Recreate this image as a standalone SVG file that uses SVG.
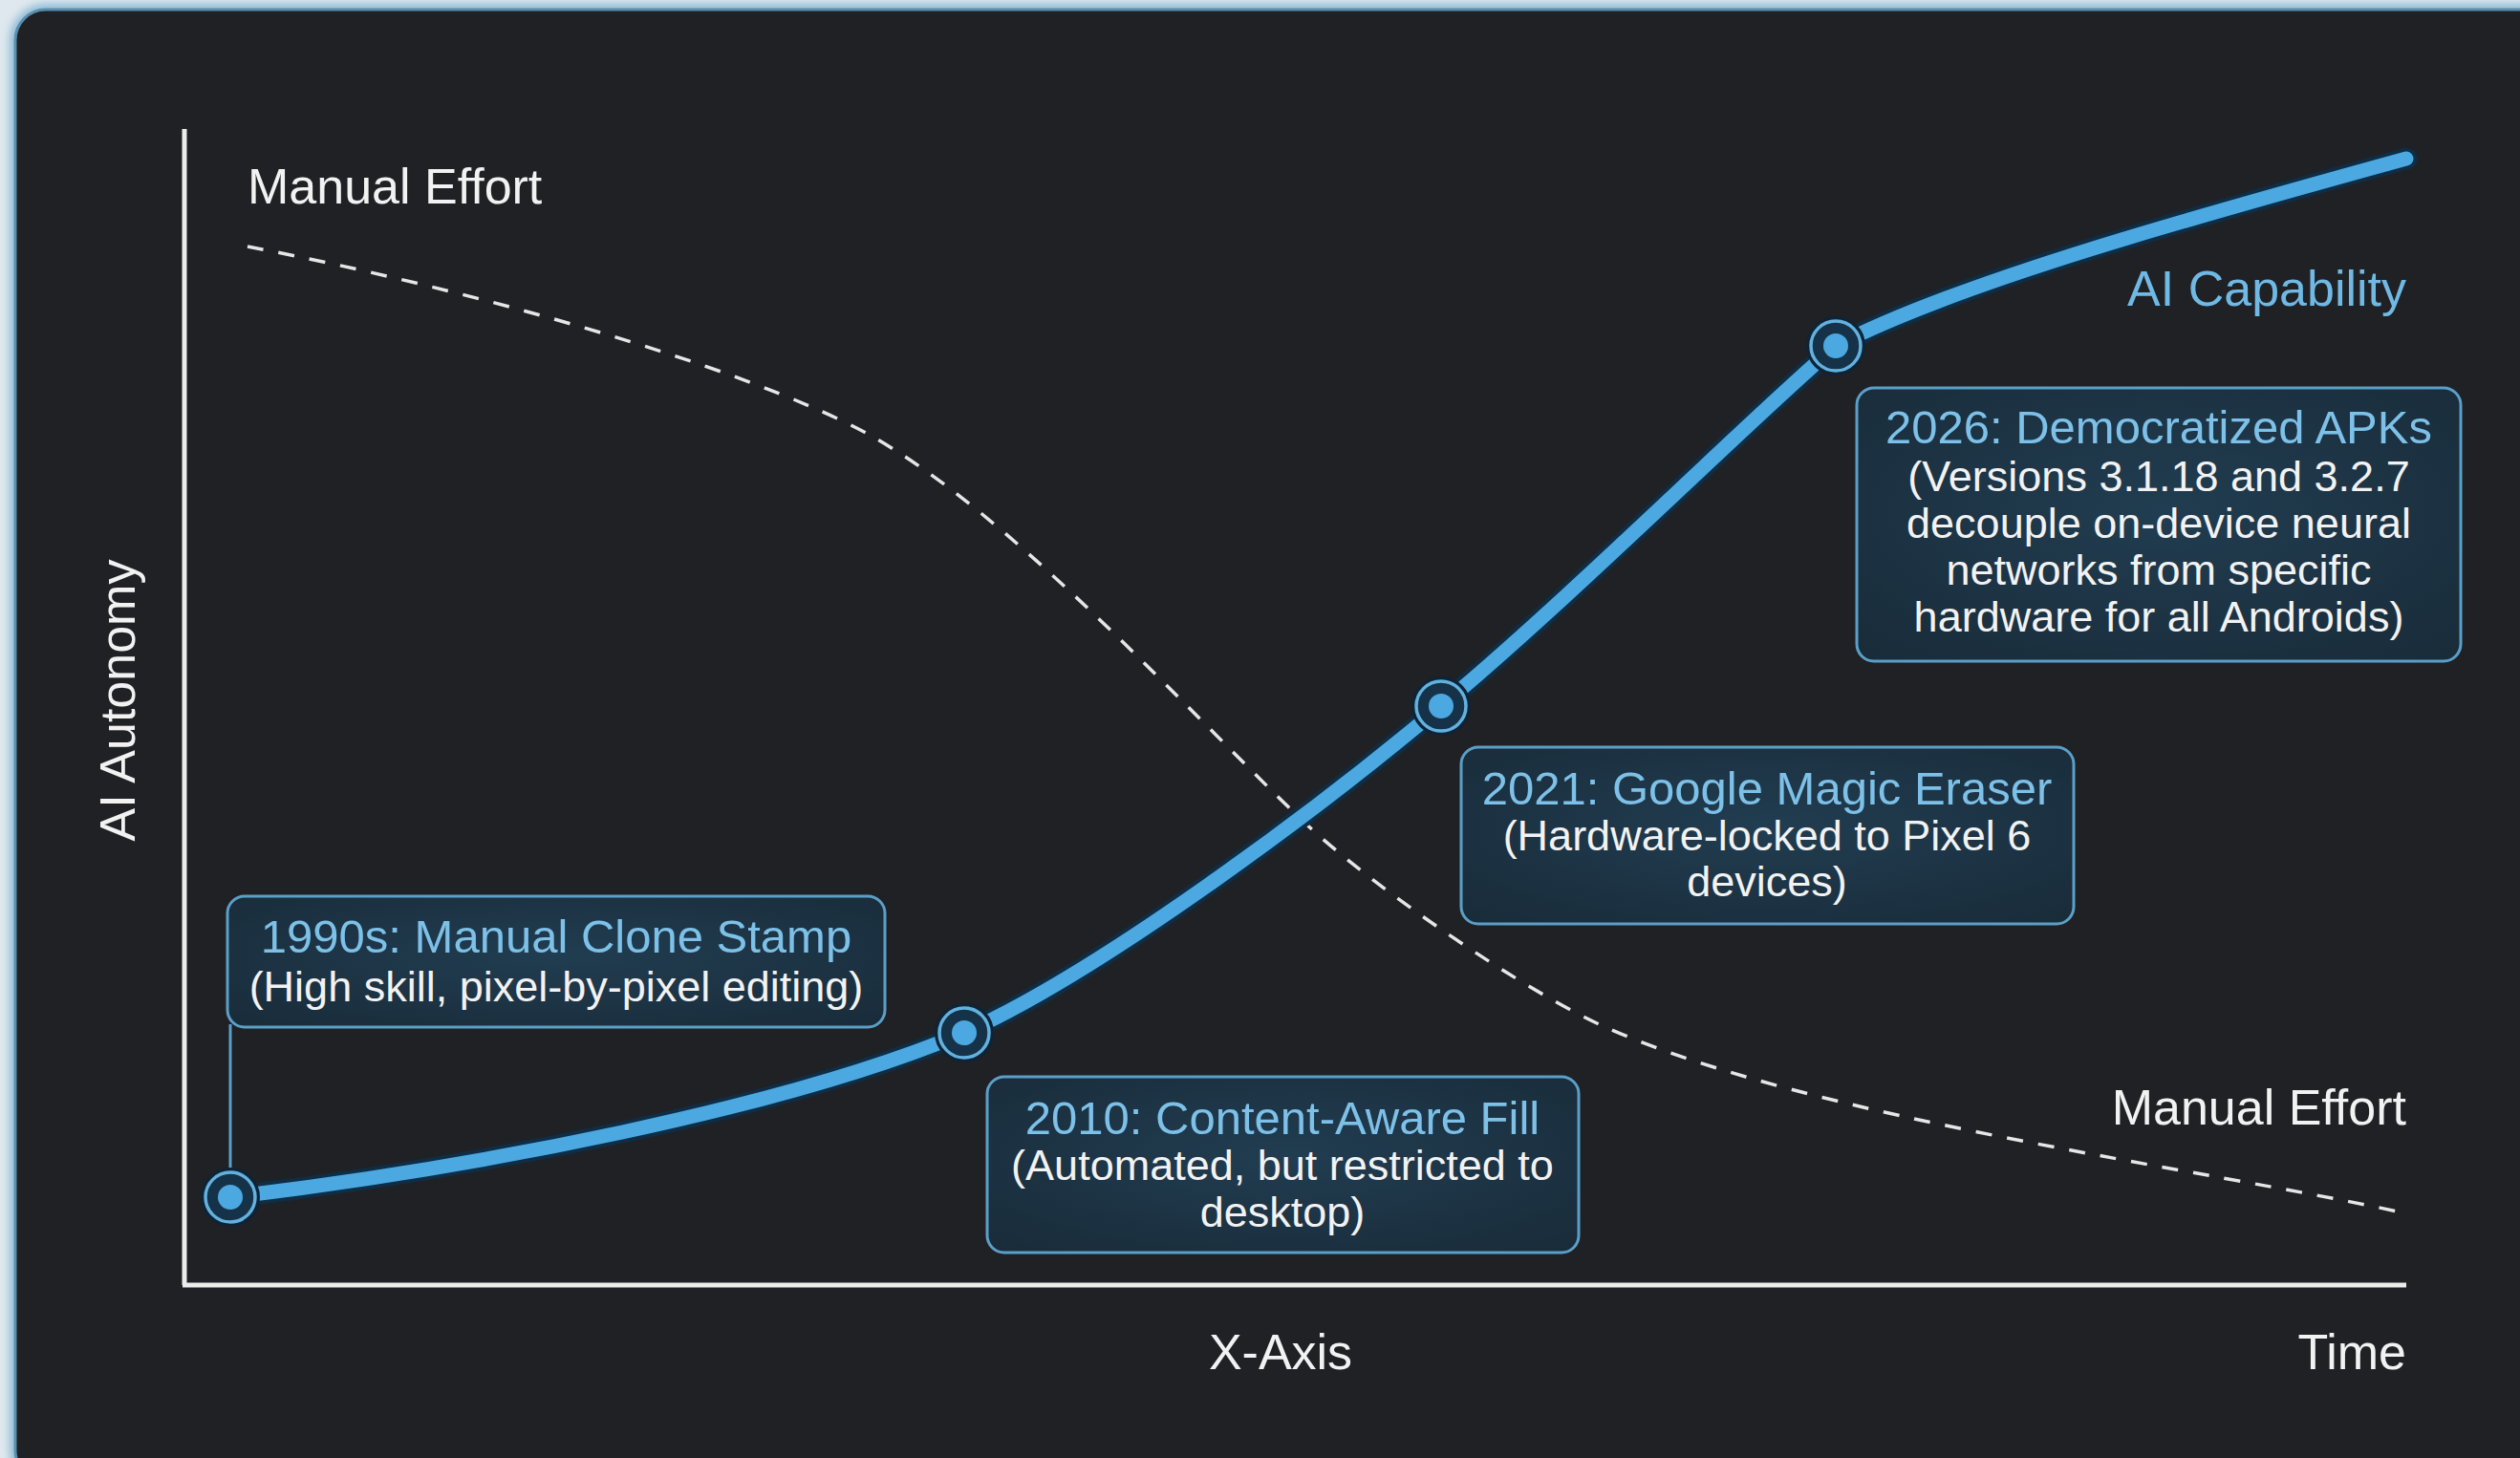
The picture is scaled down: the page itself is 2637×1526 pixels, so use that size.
<svg xmlns="http://www.w3.org/2000/svg" width="2637" height="1526" viewBox="0 0 2637 1526">
  <defs>
    <style>
      text { font-family: "Liberation Sans", Arial, sans-serif; }
      .axis-label { font-size: 52px; fill: #f2f2f2; }
      .cap-label { font-size: 52px; fill: #6fb9e4; }
      .box { fill: url(#boxGrad); stroke: #5b9fc8; stroke-width: 3; }
      .box-title { font-size: 49px; fill: #7dc0e8; text-anchor: middle; }
      .box-sub { font-size: 45px; fill: #f2f2f2; text-anchor: middle; }
      .axis { stroke: #ececec; stroke-width: 5; fill: none; }
      .dash { stroke: #e6e6e6; stroke-width: 3.5; fill: none; stroke-dasharray: 17 16; }
      .curve-under { stroke: #0f2d44; stroke-width: 23; fill: none; stroke-linecap: round; }
      .curve { stroke: #4ba8e0; stroke-width: 15; fill: none; stroke-linecap: round; }
      .m-outer { fill: #163248; stroke: #0e2436; stroke-width: 4; }
      .m-ring { fill: none; stroke: #62b1de; stroke-width: 3.5; }
      .m-dot { fill: #4ba8e0; }
      .leader { stroke: #5b9fc8; stroke-width: 3; fill: none; }
    </style>
    <radialGradient id="boxGrad" cx="50%" cy="45%" r="70%">
      <stop offset="0%" stop-color="#213d51"/>
      <stop offset="100%" stop-color="#192c3a"/>
    </radialGradient>
    <filter id="glow" x="-5%" y="-5%" width="110%" height="110%">
      <feGaussianBlur stdDeviation="5"/>
    </filter>
  </defs>

  <!-- background -->
  <rect x="0" y="0" width="2637" height="1526" fill="#dfe8ee"/>
  <rect x="16" y="10" width="2680" height="1540" rx="32" fill="none" stroke="#7fb2d0" stroke-width="10" filter="url(#glow)"/>
  <rect x="16" y="10" width="2680" height="1540" rx="32" fill="#1f2125" stroke="#5a8fb0" stroke-width="3"/>

  <!-- axes -->
  <g id="axes">
    <line class="axis" x1="193" y1="135" x2="193" y2="1345"/>
    <line class="axis" x1="191" y1="1345" x2="2518" y2="1345"/>
  </g>

  <!-- connectors / curves -->
  <g id="connectors">
    <path id="manual-effort-curve" class="dash" d="M259,258 C480,300 770,380 908,454 C1058,538 1232,733 1362,858 C1440,932 1600,1040 1682,1076 C1900,1172 2300,1222 2518,1270"/>
    <path class="curve-under" d="M241,1253 C500,1222 820,1160 1009,1081 C1150,1018 1380,847 1508,739 C1650,620 1830,440 1921,362 C2050,295 2300,226 2518,166"/>
    <path id="ai-capability-curve" class="curve" d="M241,1253 C500,1222 820,1160 1009,1081 C1150,1018 1380,847 1508,739 C1650,620 1830,440 1921,362 C2050,295 2300,226 2518,166"/>
    <line class="leader" x1="241" y1="1072" x2="241" y2="1226"/>
  </g>

  <!-- axis labels -->
  <g id="labels">
    <text class="axis-label" x="259" y="213">Manual Effort</text>
    <text class="axis-label" x="2518" y="1177" text-anchor="end">Manual Effort</text>
    <text class="cap-label" x="2518" y="320" text-anchor="end">AI Capability</text>
    <text class="axis-label" x="1340" y="1433" text-anchor="middle">X-Axis</text>
    <text class="axis-label" x="2518" y="1433" text-anchor="end">Time</text>
    <text class="axis-label" transform="translate(141,733) rotate(-90)" text-anchor="middle">AI Autonomy</text>
  </g>

  <!-- markers -->
  <g id="marker-1990s">
    <circle class="m-outer" cx="241" cy="1253" r="29"/>
    <circle class="m-ring" cx="241" cy="1253" r="26"/>
    <circle class="m-dot" cx="241" cy="1253" r="13"/>
  </g>
  <g id="marker-2010">
    <circle class="m-outer" cx="1009" cy="1081" r="29"/>
    <circle class="m-ring" cx="1009" cy="1081" r="26"/>
    <circle class="m-dot" cx="1009" cy="1081" r="13"/>
  </g>
  <g id="marker-2021">
    <circle class="m-outer" cx="1508" cy="739" r="29"/>
    <circle class="m-ring" cx="1508" cy="739" r="26"/>
    <circle class="m-dot" cx="1508" cy="739" r="13"/>
  </g>
  <g id="marker-2026">
    <circle class="m-outer" cx="1921" cy="362" r="29"/>
    <circle class="m-ring" cx="1921" cy="362" r="26"/>
    <circle class="m-dot" cx="1921" cy="362" r="13"/>
  </g>

  <!-- boxes -->
  <g id="box-1990s">
    <rect class="box" x="238" y="938" width="688" height="137" rx="18"/>
    <text class="box-title" x="582" y="997">1990s: Manual Clone Stamp</text>
    <text class="box-sub" x="582" y="1048">(High skill, pixel-by-pixel editing)</text>
  </g>
  <g id="box-2010">
    <rect class="box" x="1033" y="1127" width="619" height="184" rx="18"/>
    <text class="box-title" x="1342" y="1187">2010: Content-Aware Fill</text>
    <text class="box-sub" x="1342" y="1235">(Automated, but restricted to</text>
    <text class="box-sub" x="1342" y="1284">desktop)</text>
  </g>
  <g id="box-2021">
    <rect class="box" x="1529" y="782" width="641" height="185" rx="18"/>
    <text class="box-title" x="1849" y="842">2021: Google Magic Eraser</text>
    <text class="box-sub" x="1849" y="890">(Hardware-locked to Pixel 6</text>
    <text class="box-sub" x="1849" y="938">devices)</text>
  </g>
  <g id="box-2026">
    <rect class="box" x="1943" y="406" width="632" height="286" rx="18"/>
    <text class="box-title" x="2259" y="464">2026: Democratized APKs</text>
    <text class="box-sub" x="2259" y="514">(Versions 3.1.18 and 3.2.7</text>
    <text class="box-sub" x="2259" y="563">decouple on-device neural</text>
    <text class="box-sub" x="2259" y="612">networks from specific</text>
    <text class="box-sub" x="2259" y="661">hardware for all Androids)</text>
  </g>
</svg>
